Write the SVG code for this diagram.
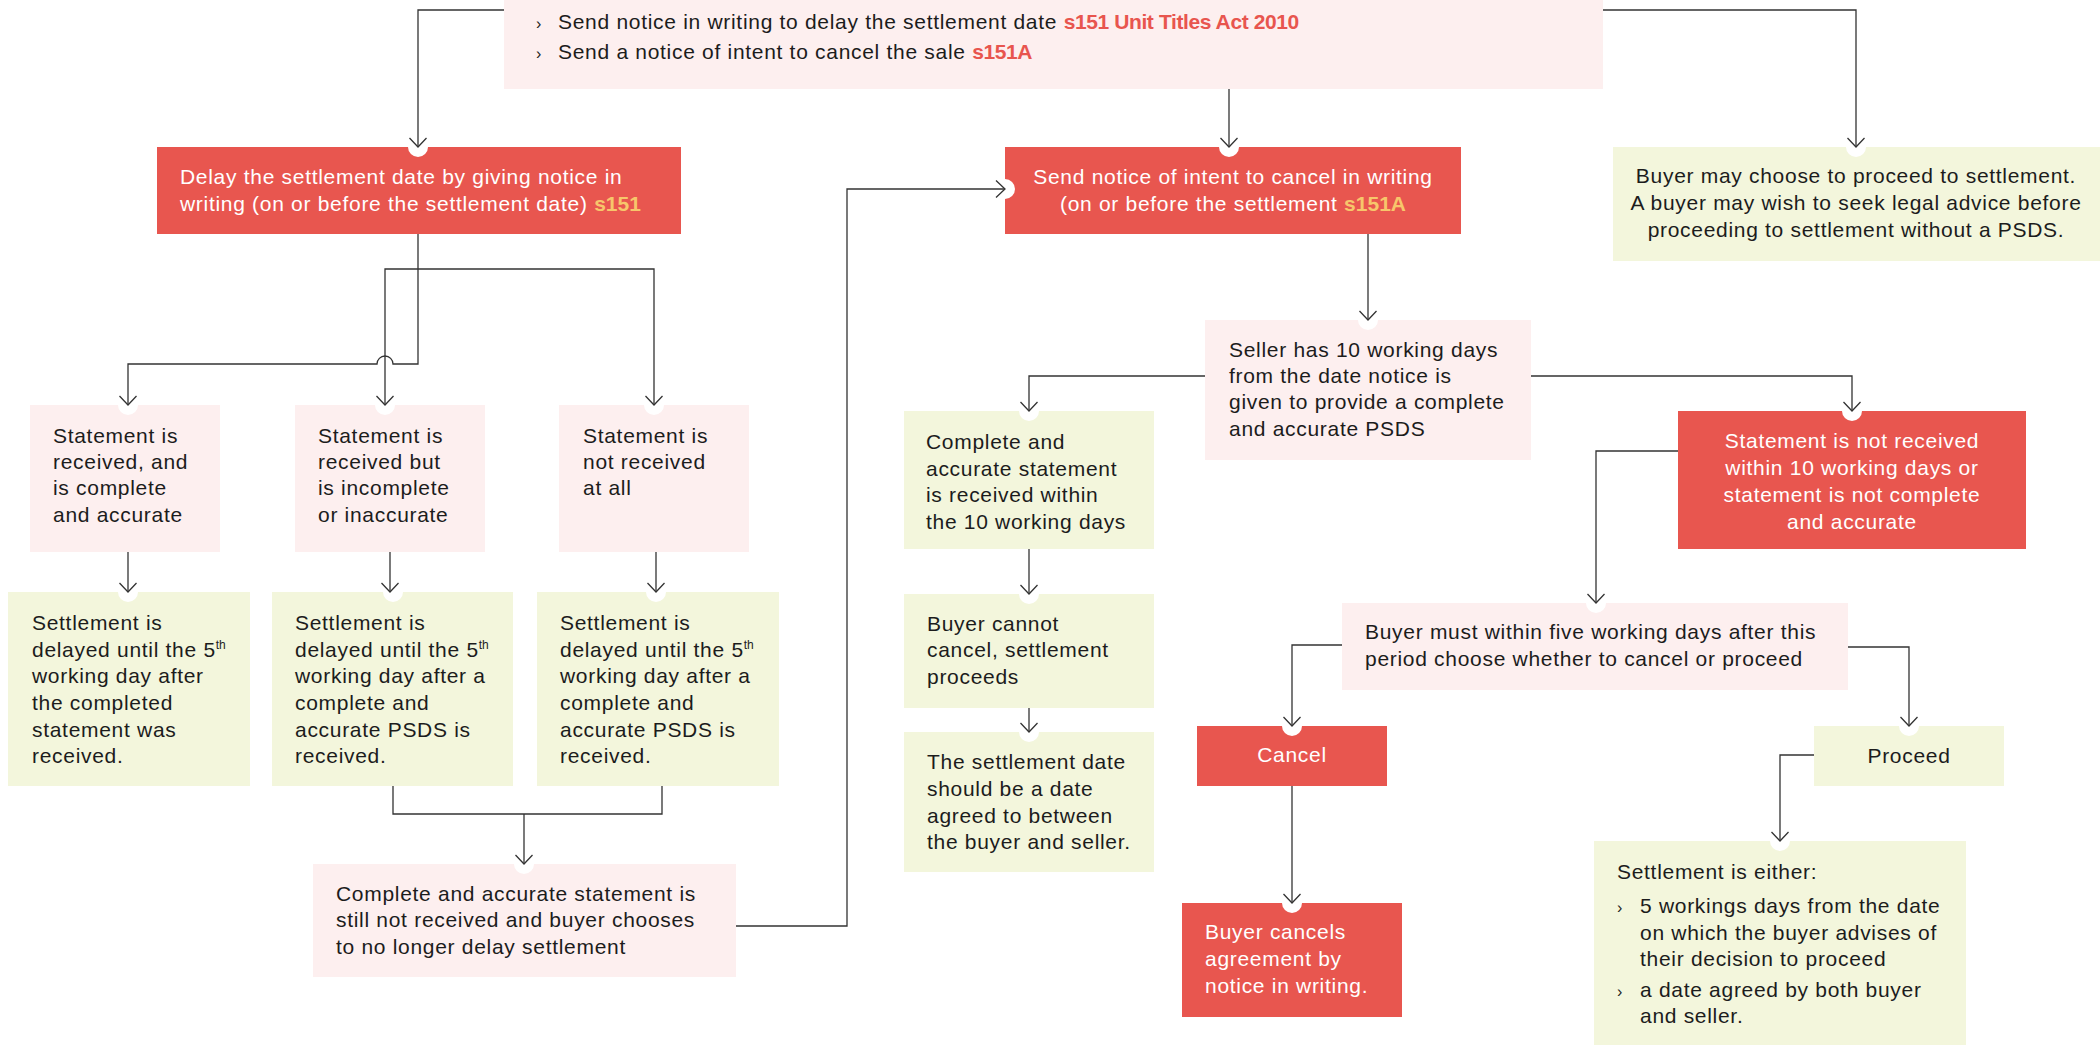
<svg xmlns="http://www.w3.org/2000/svg" width="2100" height="1045" viewBox="0 0 2100 1045">
<style>
.pink{fill:#FDEFEF}
.green{fill:#F3F6DC}
.red{fill:#E8564F}
.notch{fill:#FFFFFF}
text{font-family:"Liberation Sans",Arial,sans-serif;font-size:21px;letter-spacing:0.7px;fill:#1C1C1C}
text.w{fill:#FFFFFF}
.c{text-anchor:middle}
tspan.y{fill:#F7C66B;font-weight:bold;letter-spacing:0}
tspan.r{fill:#E8554E;font-weight:bold;letter-spacing:-0.4px}
tspan.sup{font-size:12px;letter-spacing:0}
.conn path{fill:none;stroke:#333;stroke-width:1.3;marker-end:url(#arr)}
.conn path.plain{marker-end:none}
</style>
<defs>
<marker id="arr" viewBox="-12 -12 24 24" markerWidth="24" markerHeight="24" refX="0" refY="0" orient="auto" markerUnits="userSpaceOnUse">
<path d="M-9,-8.5 L0,0 L-9,8.5" fill="none" stroke="#333" stroke-width="1.3"/>
</marker>
</defs>
<rect width="2100" height="1045" fill="#FFFFFF"/>

<g id="node-top">
<rect class="pink" x="504" y="0" width="1099" height="89"/>
<text x="536" y="29" style="font-size:16px">›</text>
<text x="558" y="29">Send notice in writing to delay the settlement date <tspan class="r">s151 Unit Titles Act 2010</tspan></text>
<text x="536" y="59" style="font-size:16px">›</text>
<text x="558" y="59">Send a notice of intent to cancel the sale <tspan class="r">s151A</tspan></text>
</g>

<g id="node-delay">
<rect class="red" x="157" y="147" width="524" height="87"/>
<circle class="notch" cx="418" cy="147" r="10"/>
<text class="w" x="180" y="184">Delay the settlement date by giving notice in</text>
<text class="w" x="180" y="211">writing (on or before the settlement date) <tspan class="y">s151</tspan></text>
</g>

<g id="node-send">
<rect class="red" x="1005" y="147" width="456" height="87"/>
<circle class="notch" cx="1229" cy="147" r="10"/>
<circle class="notch" cx="1005" cy="189" r="10"/>
<text class="w c" x="1233" y="184">Send notice of intent to cancel in writing</text>
<text class="w c" x="1233" y="211">(on or before the settlement <tspan class="y">s151A</tspan></text>
</g>

<g id="node-buyer-may">
<rect class="green" x="1613" y="147" width="487" height="114"/>
<circle class="notch" cx="1856" cy="147" r="10"/>
<text class="c" x="1856" y="183">Buyer may choose to proceed to settlement.</text>
<text class="c" x="1856" y="210">A buyer may wish to seek legal advice before</text>
<text class="c" x="1856" y="237">proceeding to settlement without a PSDS.</text>
</g>

<g id="node-a1">
<rect class="pink" x="30" y="405" width="190" height="147"/>
<circle class="notch" cx="128" cy="405" r="10"/>
<text x="53" y="443">Statement is</text>
<text x="53" y="469">received, and</text>
<text x="53" y="495">is complete</text>
<text x="53" y="522">and accurate</text>
</g>

<g id="node-a2">
<rect class="pink" x="295" y="405" width="190" height="147"/>
<circle class="notch" cx="385" cy="405" r="10"/>
<text x="318" y="443">Statement is</text>
<text x="318" y="469">received but</text>
<text x="318" y="495">is incomplete</text>
<text x="318" y="522">or inaccurate</text>
</g>

<g id="node-a3">
<rect class="pink" x="559" y="405" width="190" height="147"/>
<circle class="notch" cx="654" cy="405" r="10"/>
<text x="583" y="443">Statement is</text>
<text x="583" y="469">not received</text>
<text x="583" y="495">at all</text>
</g>

<g id="node-g1">
<rect class="green" x="8" y="592" width="242" height="194"/>
<circle class="notch" cx="128" cy="592" r="10"/>
<text x="32" y="630">Settlement is</text>
<text x="32" y="657">delayed until the 5<tspan class="sup" dy="-8">th</tspan></text>
<text x="32" y="683">working day after</text>
<text x="32" y="710">the completed</text>
<text x="32" y="737">statement was</text>
<text x="32" y="763">received.</text>
</g>

<g id="node-g2">
<rect class="green" x="272" y="592" width="241" height="194"/>
<circle class="notch" cx="393" cy="592" r="10"/>
<text x="295" y="630">Settlement is</text>
<text x="295" y="657">delayed until the 5<tspan class="sup" dy="-8">th</tspan></text>
<text x="295" y="683">working day after a</text>
<text x="295" y="710">complete and</text>
<text x="295" y="737">accurate PSDS is</text>
<text x="295" y="763">received.</text>
</g>

<g id="node-g3">
<rect class="green" x="537" y="592" width="242" height="194"/>
<circle class="notch" cx="656" cy="592" r="10"/>
<text x="560" y="630">Settlement is</text>
<text x="560" y="657">delayed until the 5<tspan class="sup" dy="-8">th</tspan></text>
<text x="560" y="683">working day after a</text>
<text x="560" y="710">complete and</text>
<text x="560" y="737">accurate PSDS is</text>
<text x="560" y="763">received.</text>
</g>

<g id="node-still-not">
<rect class="pink" x="313" y="864" width="423" height="113"/>
<circle class="notch" cx="524" cy="864" r="10"/>
<text x="336" y="901">Complete and accurate statement is</text>
<text x="336" y="927">still not received and buyer chooses</text>
<text x="336" y="954">to no longer delay settlement</text>
</g>

<g id="node-seller">
<rect class="pink" x="1205" y="320" width="326" height="140"/>
<circle class="notch" cx="1368" cy="320" r="10"/>
<text x="1229" y="357">Seller has 10 working days</text>
<text x="1229" y="383">from the date notice is</text>
<text x="1229" y="409">given to provide a complete</text>
<text x="1229" y="436">and accurate PSDS</text>
</g>

<g id="node-k1">
<rect class="green" x="904" y="411" width="250" height="138"/>
<circle class="notch" cx="1029" cy="411" r="10"/>
<text x="926" y="449">Complete and</text>
<text x="926" y="476">accurate statement</text>
<text x="926" y="502">is received within</text>
<text x="926" y="529">the 10 working days</text>
</g>

<g id="node-not-within">
<rect class="red" x="1678" y="411" width="348" height="138"/>
<circle class="notch" cx="1852" cy="411" r="10"/>
<text class="w c" x="1852" y="448">Statement is not received</text>
<text class="w c" x="1852" y="475">within 10 working days or</text>
<text class="w c" x="1852" y="502">statement is not complete</text>
<text class="w c" x="1852" y="529">and accurate</text>
</g>

<g id="node-k2">
<rect class="green" x="904" y="594" width="250" height="114"/>
<circle class="notch" cx="1029" cy="594" r="10"/>
<text x="927" y="631">Buyer cannot</text>
<text x="927" y="657">cancel, settlement</text>
<text x="927" y="684">proceeds</text>
</g>

<g id="node-k3">
<rect class="green" x="904" y="732" width="250" height="140"/>
<circle class="notch" cx="1029" cy="732" r="10"/>
<text x="927" y="769">The settlement date</text>
<text x="927" y="796">should be a date</text>
<text x="927" y="823">agreed to between</text>
<text x="927" y="849">the buyer and seller.</text>
</g>

<g id="node-must">
<rect class="pink" x="1342" y="603" width="506" height="87"/>
<circle class="notch" cx="1596" cy="603" r="10"/>
<text x="1365" y="639">Buyer must within five working days after this</text>
<text x="1365" y="666">period choose whether to cancel or proceed</text>
</g>

<g id="node-cancel">
<rect class="red" x="1197" y="726" width="190" height="60"/>
<circle class="notch" cx="1292" cy="726" r="10"/>
<text class="w c" x="1292" y="762">Cancel</text>
</g>

<g id="node-proceed">
<rect class="green" x="1814" y="726" width="190" height="60"/>
<circle class="notch" cx="1909" cy="726" r="10"/>
<text class="c" x="1909" y="763">Proceed</text>
</g>

<g id="node-buyer-cancels">
<rect class="red" x="1182" y="903" width="220" height="114"/>
<circle class="notch" cx="1292" cy="903" r="10"/>
<text class="w" x="1205" y="939">Buyer cancels</text>
<text class="w" x="1205" y="966">agreement by</text>
<text class="w" x="1205" y="993">notice in writing.</text>
</g>

<g id="node-either">
<rect class="green" x="1594" y="841" width="372" height="204"/>
<circle class="notch" cx="1780" cy="841" r="10"/>
<text x="1617" y="879">Settlement is either:</text>
<text x="1617" y="913" style="font-size:16px">›</text>
<text x="1640" y="913">5 workings days from the date</text>
<text x="1640" y="940">on which the buyer advises of</text>
<text x="1640" y="966">their decision to proceed</text>
<text x="1617" y="997" style="font-size:16px">›</text>
<text x="1640" y="997">a date agreed by both buyer</text>
<text x="1640" y="1023">and seller.</text>
</g>

<g id="connectors" class="conn">
<path d="M504,10 H418 V147"/>
<path d="M1603,10 H1856 V147"/>
<path d="M1229,89 V147"/>
<path d="M418,234 V364 H393 A8,8 0 0 0 377,364 H128 V405"/>
<path d="M418,269 H385 V405"/>
<path d="M418,269 H654 V405"/>
<path d="M128,552 V592"/>
<path d="M390,552 V592"/>
<path d="M656,552 V592"/>
<path class="plain" d="M393,786 V814 H662 V786"/>
<path d="M524,814 V864"/>
<path d="M736,926 H847 V189 H1005"/>
<path d="M1368,234 V320"/>
<path d="M1205,376 H1029 V411"/>
<path d="M1531,376 H1852 V411"/>
<path d="M1029,549 V594"/>
<path d="M1029,708 V732"/>
<path d="M1678,451 H1596 V603"/>
<path d="M1342,645 H1292 V726"/>
<path d="M1848,647 H1909 V726"/>
<path d="M1292,786 V903"/>
<path d="M1814,755 H1780 V841"/>
</g>
</svg>
